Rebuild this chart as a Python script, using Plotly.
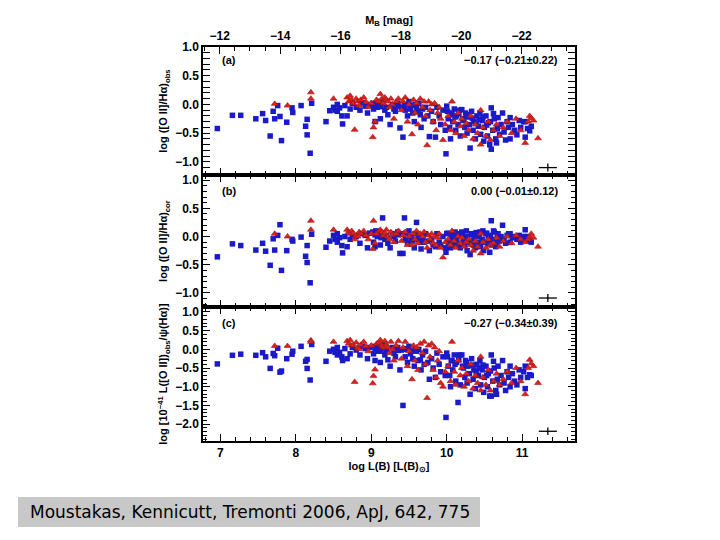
import plotly.graph_objects as go

# ---------------- data ----------------
blue_x = [6.96,7.16,7.27,7.47,7.56,7.60,7.66,7.70,7.72,7.76,7.79,7.81,7.88,7.95,7.96,8.07,8.13,8.15,8.15,8.19,8.21,8.40,
          8.45,8.50,8.52,8.55,8.55,8.58,8.61,8.62,8.65,8.68,8.72,8.75,8.80,8.85,8.88,8.92,8.95,8.98,
          9.02,9.03,9.05,9.06,9.08,9.10,9.12,9.15,9.18,9.20,9.22,9.25,9.28,9.30,9.32,9.35,9.38,9.40,9.42,9.44,9.45,9.48,9.50,
          9.52,9.55,9.57,9.58,9.60,9.62,9.65,9.66,9.68,9.70,9.72,9.75,9.77,9.80,9.82,9.85,9.87,9.90,9.92,9.95,9.98,9.99,
          10.00,10.02,10.04,10.05,10.07,10.08,10.10,10.12,10.13,10.15,10.17,10.18,10.20,10.22,10.24,10.25,10.27,10.28,10.30,10.31,10.33,10.35,10.36,10.38,10.40,10.42,10.44,10.45,10.47,10.49,
          10.50,10.52,10.54,10.55,10.57,10.59,10.59,10.61,10.63,10.65,10.66,10.68,10.70,10.72,10.74,10.76,10.78,10.80,10.82,10.84,10.84,10.87,10.90,10.93,10.96,10.98,11.02,11.04,11.04,11.07,11.10,11.12,
          10.01,10.06,10.11,10.16,10.21,10.26,10.34,10.39,10.43,10.48,10.53,10.58,10.62,10.67,9.05,9.09,9.13,9.36,9.46,9.53,9.63]
blue_a = [-0.42,-0.19,-0.19,-0.25,-0.16,-0.28,-0.55,-0.12,-0.25,-0.02,-0.21,-0.63,-0.31,-0.06,-0.14,-0.02,-0.38,-0.26,-0.53,-0.85,0.02,-0.30,
          -0.11,-0.05,-0.10,0.00,-0.12,-0.06,-0.20,-0.34,-0.02,-0.20,-0.08,0.02,-0.05,-0.10,0.03,-0.03,-0.15,0.00,
          0.02,-0.08,-0.30,0.00,-0.05,-0.02,-0.25,0.05,-0.10,-0.05,-0.18,-0.35,0.00,-0.08,-0.12,0.02,-0.41,-0.05,-0.57,-0.02,-0.10,-0.20,0.05,
          -0.08,-0.15,-0.30,0.00,-0.05,-0.12,-0.18,-0.40,-0.08,-0.25,-0.05,-0.20,-0.56,-0.12,-0.30,-0.57,-0.05,-0.20,-0.35,-0.10,-0.45,-0.86,
          -0.03,-0.25,-0.40,-0.60,-0.15,-0.30,-0.08,-0.45,-0.20,-0.35,-0.10,-0.55,-0.09,-0.28,-0.40,-0.15,-0.50,-0.22,-0.35,-0.76,-0.12,-0.45,-0.30,-0.60,-0.20,-0.38,-0.15,-0.52,-0.28,-0.64,
          -0.40,-0.20,-0.55,-0.32,-0.70,-0.06,-0.78,-0.45,-0.25,-0.60,-0.67,-0.23,-0.52,-0.35,-0.15,-0.48,-0.62,-0.30,-0.40,-0.23,-0.60,-0.35,-0.45,-0.53,-0.28,-0.40,-0.30,-0.30,-0.57,-0.42,-0.46,-0.38,
          -0.12,-0.18,-0.22,-0.16,-0.25,-0.18,-0.24,-0.33,-0.26,-0.22,-0.36,-0.30,-0.16,-0.42,0.00,0.02,-0.04,-0.03,0.00,-0.02,0.02]
blue_b = [-0.36,-0.13,-0.16,-0.24,-0.12,-0.26,-0.51,-0.04,-0.24,0.02,0.21,-0.60,-0.25,-0.05,-0.08,-0.01,-0.35,-0.16,-0.46,-0.82,0.04,-0.19,
          -0.08,0.02,-0.05,0.05,-0.10,-0.02,-0.16,-0.29,0.00,-0.18,-0.05,0.03,0.00,-0.12,0.05,0.02,-0.20,0.06,
          0.08,-0.10,-0.18,0.10,0.00,0.05,-0.15,0.33,-0.05,0.02,-0.12,-0.20,0.05,0.00,-0.08,0.08,-0.30,0.05,-0.30,0.33,-0.05,-0.10,0.10,
          0.00,-0.08,-0.20,0.05,0.25,-0.05,-0.10,-0.22,-0.02,-0.10,0.05,-0.08,-0.25,-0.05,-0.15,-0.18,0.05,-0.10,-0.15,0.00,-0.20,-0.28,
          0.05,-0.10,-0.18,-0.20,-0.05,-0.10,0.02,-0.15,-0.05,-0.12,0.05,-0.20,0.08,-0.08,-0.15,-0.02,-0.25,0.00,-0.10,-0.32,0.05,-0.15,-0.05,-0.20,0.02,-0.10,0.08,-0.18,-0.05,-0.25,
          -0.10,0.05,-0.12,0.00,-0.28,0.28,-0.15,-0.05,0.08,-0.18,-0.10,0.05,-0.08,0.00,0.20,-0.05,-0.12,0.02,0.05,0.05,-0.10,-0.02,0.00,-0.05,0.02,-0.10,0.00,0.12,-0.05,0.00,-0.08,-0.10,
          0.06,0.04,0.08,0.02,0.06,0.10,0.04,0.07,0.00,0.10,0.06,0.02,0.10,0.04,0.03,0.07,-0.02,0.03,0.06,-0.04,0.02]
blue_c = [-0.39,-0.16,-0.13,-0.16,-0.09,-0.20,-0.51,-0.11,-0.17,0.03,-0.61,-0.58,-0.25,-0.13,-0.05,0.08,-0.32,-0.27,-0.51,-0.82,0.13,-0.32,
          -0.05,0.00,-0.08,0.05,-0.15,-0.08,-0.20,-0.30,0.02,-0.25,-0.12,0.05,-0.02,-0.15,0.08,0.02,-0.25,0.05,
          0.08,-0.12,-0.30,0.05,-0.05,0.00,-0.35,0.12,-0.15,-0.05,-0.28,-0.45,0.05,-0.10,-0.20,0.05,-0.55,-0.02,-1.50,0.00,-0.20,-0.35,0.08,
          -0.12,-0.25,-0.45,0.02,-0.05,-0.30,-0.28,-0.55,-0.15,-0.40,-0.05,-0.35,-0.80,-0.25,-0.50,-0.75,-0.10,-0.40,-0.60,-0.20,-0.70,-1.82,
          -0.10,-0.45,-0.70,-1.00,-0.30,-0.55,-0.15,-0.85,-0.35,-1.42,-0.15,-0.95,-0.15,-0.50,-0.75,-0.30,-0.90,-0.45,-0.65,-1.20,-0.25,-0.80,-0.55,-1.05,-0.40,-0.70,-0.30,-0.95,-0.55,-1.15,
          -0.75,-0.45,-1.00,-0.65,-1.25,-0.15,-1.25,-0.85,-0.50,-1.10,-1.20,-0.45,-0.95,-0.70,-0.30,-0.90,-1.10,-0.60,-0.75,-0.45,-1.00,-0.65,-0.85,-0.95,-0.55,-0.75,-0.60,-0.45,-1.05,-0.75,-0.68,-0.70,
          -0.20,-0.30,-0.40,-0.28,-0.45,-0.35,-0.42,-0.60,-0.50,-0.42,-0.70,-0.58,-0.32,-0.80,0.02,0.06,-0.05,-0.03,0.02,-0.05,0.00]

red_x = [7.72,7.89,8.20,8.20,
         8.50,8.68,8.70,8.72,8.74,8.76,8.78,8.80,8.82,8.84,8.86,8.90,8.93,8.96,9.00,9.02,9.03,9.05,9.07,9.10,
         9.12,9.14,9.16,9.18,9.20,9.22,9.24,9.26,9.28,9.30,9.33,9.36,9.40,9.42,9.45,9.48,9.50,9.54,9.56,9.58,
         9.60,9.62,9.65,9.68,9.70,9.72,9.74,9.76,9.78,9.80,9.82,9.84,9.86,9.88,9.90,9.92,9.95,9.98,10.02,10.05,
         10.07,10.10,10.12,10.15,10.18,10.20,10.23,10.26,10.29,10.32,10.35,10.38,10.41,10.45,10.45,10.48,10.52,10.55,10.58,10.62,
         10.66,10.70,10.75,10.80,10.86,10.92,10.98,11.04,11.08,11.10,11.12,11.15,11.21]
red_a = [0.01,-0.02,0.21,0.10,
         0.10,0.12,0.05,0.15,0.08,0.02,-0.44,0.10,0.05,-0.02,0.08,0.12,0.04,-0.05,0.02,-0.57,-0.40,-0.30,0.08,0.05,
         0.18,0.10,0.02,0.12,0.08,0.05,-0.05,0.10,0.00,-0.25,0.05,0.10,-0.10,0.05,0.12,-0.30,0.00,-0.52,0.08,-0.15,
         0.02,-0.35,0.10,-0.05,0.05,-0.20,-0.71,0.05,-0.10,0.00,-0.30,0.02,-0.45,-0.15,-0.05,-0.25,-0.62,-0.35,-0.20,-0.45,
         0.05,-0.30,-0.50,-0.15,-0.38,-0.25,-0.55,-0.33,-0.45,-0.20,-0.60,-0.35,-0.50,-0.10,-0.70,-0.40,-0.55,-0.30,-0.62,-0.45,
         -0.35,-0.55,-0.40,-0.30,-0.50,-0.25,-0.45,-0.67,-0.30,-0.20,-0.24,-0.28,-0.59]
red_b = [0.05,0.00,0.28,0.12,
         0.12,0.12,0.08,0.05,0.10,0.06,-0.05,0.02,0.00,0.08,0.05,0.10,0.02,-0.05,0.05,-0.22,0.28,-0.12,0.05,0.10,
         0.12,0.08,0.02,0.06,0.12,0.00,-0.05,0.08,0.03,-0.10,0.05,0.10,-0.08,0.02,0.08,-0.15,0.00,-0.15,0.05,-0.05,
         0.10,-0.12,0.05,0.00,0.08,-0.10,-0.20,0.02,-0.05,0.05,-0.12,0.00,-0.15,-0.02,0.05,-0.20,-0.37,-0.10,-0.05,-0.15,
         0.10,-0.08,-0.20,0.00,-0.12,-0.02,-0.18,-0.10,-0.05,-0.15,-0.25,-0.08,-0.18,0.05,-0.30,-0.10,-0.20,-0.05,-0.15,-0.12,
         -0.02,-0.18,-0.08,0.00,-0.12,0.02,-0.05,-0.10,-0.05,0.00,0.05,-0.02,-0.18]
red_c = [0.09,0.09,0.24,0.20,
         0.20,0.22,0.15,0.25,0.10,0.12,-0.87,0.18,0.05,0.00,0.12,0.20,0.08,-0.05,0.10,-0.91,-0.71,-0.54,0.15,0.18,
         0.25,0.10,0.05,0.22,0.12,0.05,-0.10,0.20,0.00,-0.30,0.10,0.22,-0.25,0.05,0.20,-0.45,-0.05,-0.80,0.10,-0.30,
         0.05,-0.55,0.15,-0.10,0.20,-0.40,-1.30,0.10,-0.20,0.15,-0.55,0.05,-0.75,-0.30,-0.05,-0.90,-1.00,-0.60,-0.45,-0.85,
         0.20,-0.60,-0.95,-0.30,-0.70,-0.50,-1.00,-0.65,-0.85,-0.40,-1.05,-0.70,-0.90,-0.20,-1.10,-0.75,-0.95,-0.55,-1.10,-0.85,
         -0.65,-0.95,-0.80,-0.60,-0.90,-0.50,-0.85,-1.20,-0.50,-0.28,-0.38,-0.45,-0.90]

panel_labels = ["(a)", "(b)", "(c)"]
panel_stats = ["\u22120.17 (\u22120.21\u00b10.22)", "0.00 (\u22120.01\u00b10.12)", "\u22120.27 (\u22120.34\u00b10.39)"]
panel_titles = ["log ([O II]/H\u03b1)<sub>obs</sub>",
                "log ([O II]/H\u03b1)<sub>cor</sub>",
                "log [10<sup>\u221241</sup> L([O II])<sub>obs</sub>/\u03c8(H\u03b1)]"]
err_x = 11.34
err_y = [-1.10, -1.09, -2.19]
err_dx = 0.12
err_dy = [0.07, 0.07, 0.10]
lum_ticks = [7, 8, 9, 10, 11]
mag_ticks = [-12, -14, -16, -18, -20, -22]
caption = "Moustakas, Kennicutt, Tremonti 2006, ApJ, 642, 775"

# ---------------- figure ----------------
BLUE = "#1a1ac8"
RED = "#e0201c"
FONT = dict(family="Liberation Sans", size=12, color="black", weight="bold")
TFONT = dict(family="Liberation Sans", size=11, color="black", weight="bold")

# page body has an 8px margin: figure placed at (8, 8) in the window
PL, PT, PW, PH = 195, 39, 372, 394
FW, FH = 704, 524

fig = go.Figure()
xrange = [6.77, 11.7]
panels = [("x3", "y", blue_a, red_a), ("x2", "y2", blue_b, red_b), ("x", "y3", blue_c, red_c)]
for i, (xa, ya, bv, rv) in enumerate(panels):
    fig.add_trace(go.Scatter(x=blue_x, y=bv, mode="markers", xaxis=xa, yaxis=ya,
                             marker=dict(symbol="square", size=5.5, color=BLUE, line=dict(width=0)),
                             showlegend=False, hoverinfo="skip"))
    fig.add_trace(go.Scatter(x=red_x, y=rv, mode="markers", xaxis=xa, yaxis=ya,
                             marker=dict(symbol="triangle-up", size=6, color=RED,
                                         line=dict(width=0.6, color="#9a1818")),
                             showlegend=False, hoverinfo="skip"))
    fig.add_trace(go.Scatter(x=[err_x], y=[err_y[i]], mode="markers", xaxis=xa, yaxis=ya,
                             marker=dict(size=1, color="black"),
                             error_x=dict(type="constant", value=err_dx, thickness=1.3, width=0, color="black"),
                             error_y=dict(type="constant", value=err_dy[i], thickness=1.3, width=0, color="black"),
                             showlegend=False, hoverinfo="skip"))
# dummy trace to activate top magnitude axis
fig.add_trace(go.Scatter(x=[None], y=[None], xaxis="x4", yaxis="y", showlegend=False, hoverinfo="skip"))

axis_common = dict(showline=True, linecolor="black", linewidth=1.5, ticks="inside",
                   tickcolor="black", tickwidth=1.2, showgrid=False, zeroline=False)

xa_common = dict(axis_common, range=xrange, tickvals=lum_ticks, ticklen=7,
                 minor=dict(ticks="inside", dtick=0.2, ticklen=4, tickcolor="black", tickwidth=1, showgrid=False))

layout_axes = dict(
    xaxis=dict(xa_common, domain=[0, 1], anchor="y3", mirror="allticks",
               title=dict(text="log L(B) [L(B)<sub>\u2299</sub>]", font=TFONT, standoff=3),
               tickfont=FONT),
    xaxis2=dict(xa_common, domain=[0, 1], anchor="y2", mirror="allticks", showticklabels=False),
    xaxis3=dict(xa_common, domain=[0, 1], anchor="y", mirror=False, showticklabels=False),
    xaxis4=dict(axis_common, overlaying="x3", anchor="y", side="top",
                range=[5.48 - 2.5 * xrange[0], 5.48 - 2.5 * xrange[1]],
                tickvals=mag_ticks, ticktext=[f"\u2212{abs(v)}" for v in mag_ticks], ticklen=7,
                minor=dict(ticks="inside", dtick=0.5, ticklen=4, tickcolor="black", tickwidth=1, showgrid=False),
                tickfont=FONT, title=dict(text="M<sub>B</sub> [mag]", font=TFONT, standoff=3)),
)

ydomains = [[0.675, 1.0], [0.34, 0.675], [0.0, 0.34]]
yranges = [[-1.23, 1.0], [-1.25, 1.09], [-2.45, 1.13]]
yticks = [[-1.0, -0.5, 0.0, 0.5, 1.0], [-1.0, -0.5, 0.0, 0.5, 1.0], [-2.0, -1.5, -1.0, -0.5, 0.0, 0.5, 1.0]]
yanchors = ["x3", "x2", "x"]
for i, name in enumerate(["yaxis", "yaxis2", "yaxis3"]):
    layout_axes[name] = dict(axis_common, domain=ydomains[i], anchor=yanchors[i], range=yranges[i],
                             tickvals=yticks[i], tickformat=".1f", ticklen=7, mirror="allticks",
                             minor=dict(ticks="inside", dtick=0.1, ticklen=4, tickcolor="black",
                                        tickwidth=1, showgrid=False),
                             tickfont=FONT, title=dict(text=panel_titles[i], font=TFONT, standoff=5))

annotations = []
for i, (xr, yr) in enumerate([("x3 domain", "y domain"), ("x2 domain", "y2 domain"), ("x domain", "y3 domain")]):
    annotations.append(dict(x=0.045, y=0.9 if i == 0 else 0.88, xref=xr, yref=yr, text=panel_labels[i],
                            showarrow=False, xanchor="left", yanchor="middle", font=TFONT))
    annotations.append(dict(x=0.96, y=0.9 if i == 0 else 0.88, xref=xr, yref=yr, text=panel_stats[i],
                            showarrow=False, xanchor="right", yanchor="middle", font=TFONT))
annotations.append(dict(x=(250 - 203) / PW, y=(441 - 512) / PH, xref="paper", yref="paper",
                        text=caption, showarrow=False, xanchor="center", yanchor="middle",
                        font=dict(family="DejaVu Sans", size=17, color="black", weight="normal")))

fig.update_layout(
    width=FW, height=FH,
    margin=dict(l=PL, r=FW - PL - PW, t=PT, b=FH - PT - PH),
    paper_bgcolor="white", plot_bgcolor="white",
    font=FONT,
    annotations=annotations,
    shapes=[dict(type="rect", xref="paper", yref="paper",
                 x0=(18 - 203) / PW, x1=(480 - 203) / PW,
                 y0=(441 - 527) / PH, y1=(441 - 497) / PH,
                 fillcolor="#c8c8c8", line=dict(width=0), layer="below")],
    **layout_axes,
)

fig.write_html("out.html")
